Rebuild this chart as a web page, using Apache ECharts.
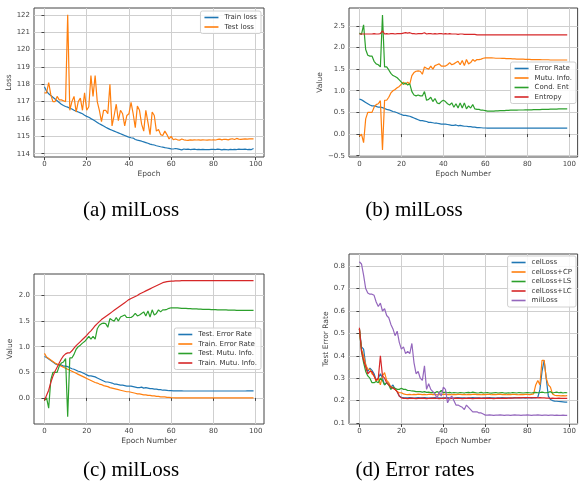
<!DOCTYPE html>
<html><head><meta charset="utf-8">
<script src="https://cdn.jsdelivr.net/npm/echarts@6/dist/echarts.min.js"></script>
<style>html,body{margin:0;padding:0;background:#fff}#c{width:579px;height:489px}</style>
</head><body><div id="c"></div>
<script>
// ---------- Panel (a) ----------
var trainLoss = [117.85,117.6,117.45,117.35,117.25,117.15,117.05,116.95,116.85,116.78,
116.72,116.68,116.62,116.57,116.5,116.45,116.4,116.35,116.3,116.22,
116.15,116.1,116.02,115.95,115.88,115.8,115.72,115.66,115.6,115.52,
115.46,115.4,115.35,115.3,115.25,115.2,115.15,115.1,115.05,115.0,
114.95,114.92,114.9,114.82,114.78,114.75,114.72,114.68,114.64,114.6,
114.55,114.52,114.5,114.46,114.43,114.4,114.38,114.35,114.33,114.31,
114.28,114.27,114.3,114.28,114.25,114.22,114.27,114.25,114.26,114.24,
114.25,114.26,114.24,114.25,114.23,114.25,114.24,114.23,114.24,114.25,
114.25,114.24,114.26,114.25,114.22,114.25,114.24,114.22,114.25,114.24,
114.25,114.24,114.26,114.25,114.25,114.26,114.24,114.25,114.24,114.3];
var testLoss = [117.5,117.5,118.1,117.4,117.0,117.0,117.3,117.1,117.1,117.05,
117.0,122.0,116.5,117.0,117.3,116.4,117.0,117.2,116.5,117.5,
116.5,116.7,118.5,117.3,118.5,117.0,116.5,115.85,116.5,116.5,
116.3,118.0,115.6,116.2,116.85,115.9,116.5,116.3,115.6,116.2,
116.3,116.95,116.3,115.5,116.75,116.5,115.7,115.3,116.5,115.8,
115.1,116.4,116.2,115.3,115.4,115.1,115.05,115.3,115.1,114.85,
115.0,114.8,114.85,114.8,114.78,114.85,114.8,114.78,114.77,114.8,
114.78,114.8,114.79,114.8,114.78,114.8,114.79,114.78,114.8,114.79,
114.8,114.79,114.82,114.84,114.8,114.83,114.82,114.8,114.84,114.86,
114.82,114.88,114.84,114.82,114.84,114.85,114.84,114.85,114.85,114.85];

// ---------- Panel (b) ----------
var errRate = [0.81,0.79,0.76,0.73,0.70,0.67,0.65,0.65,0.64,0.62,
0.62,0.61,0.59,0.57,0.56,0.54,0.52,0.51,0.49,0.47,
0.45,0.43,0.43,0.42,0.41,0.39,0.37,0.35,0.33,0.31,
0.31,0.30,0.29,0.27,0.27,0.26,0.25,0.25,0.24,0.23,
0.23,0.23,0.22,0.21,0.20,0.20,0.21,0.19,0.20,0.19,
0.18,0.18,0.17,0.17,0.16,0.16,0.15,0.15,0.145,0.14,
0.14,0.138,0.137,0.137,0.136,0.136,0.135,0.135,0.135,0.135,
0.135,0.135,0.135,0.135,0.135,0.135,0.135,0.135,0.135,0.135,
0.135,0.135,0.135,0.135,0.135,0.135,0.135,0.135,0.135,0.135,
0.135,0.135,0.135,0.135,0.135,0.135,0.136,0.136,0.137,0.137];
var mutuInfo = [-0.05,0.0,-0.2,0.35,0.5,0.5,0.5,0.62,0.68,0.7,
0.77,-0.37,0.78,0.78,0.85,0.95,1.0,1.03,1.07,1.1,
1.15,1.2,1.15,1.2,1.15,1.35,1.42,1.45,1.46,1.45,
1.38,1.55,1.52,1.5,1.57,1.5,1.58,1.6,1.62,1.57,
1.57,1.57,1.6,1.65,1.6,1.62,1.65,1.68,1.6,1.7,
1.58,1.72,1.62,1.65,1.72,1.68,1.72,1.72,1.73,1.75,
1.76,1.76,1.76,1.76,1.755,1.75,1.75,1.75,1.745,1.745,
1.74,1.74,1.74,1.735,1.735,1.73,1.73,1.73,1.73,1.725,
1.725,1.725,1.72,1.72,1.72,1.72,1.72,1.715,1.715,1.715,
1.715,1.71,1.71,1.71,1.71,1.71,1.71,1.71,1.71,1.71];
var condEnt = [2.33,2.3,2.52,1.95,1.82,1.8,1.8,1.68,1.62,1.6,
1.55,2.75,1.55,1.55,1.48,1.4,1.35,1.33,1.3,1.25,
1.2,1.15,1.18,1.13,1.16,0.98,0.9,0.88,0.9,0.88,
0.88,0.98,0.78,0.8,0.85,0.75,0.82,0.72,0.7,0.75,
0.78,0.75,0.7,0.67,0.72,0.62,0.7,0.6,0.72,0.6,
0.72,0.58,0.65,0.6,0.68,0.58,0.57,0.57,0.55,0.55,
0.54,0.53,0.53,0.53,0.53,0.535,0.535,0.54,0.54,0.54,
0.545,0.545,0.55,0.55,0.55,0.55,0.555,0.555,0.555,0.56,
0.56,0.56,0.56,0.565,0.565,0.565,0.565,0.57,0.57,0.57,
0.57,0.575,0.575,0.575,0.575,0.58,0.58,0.58,0.58,0.58];
var entropy = [2.31,2.31,2.31,2.31,2.31,2.31,2.31,2.32,2.31,2.31,
2.32,2.38,2.31,2.32,2.31,2.32,2.32,2.31,2.32,2.32,
2.32,2.33,2.34,2.33,2.34,2.32,2.32,2.31,2.32,2.32,
2.32,2.34,2.31,2.32,2.32,2.31,2.32,2.31,2.32,2.32,
2.31,2.32,2.31,2.32,2.31,2.31,2.31,2.30,2.31,2.31,
2.30,2.30,2.30,2.30,2.30,2.30,2.29,2.29,2.29,2.29,
2.29,2.29,2.29,2.29,2.29,2.29,2.29,2.29,2.29,2.29,
2.29,2.29,2.29,2.29,2.29,2.29,2.29,2.29,2.29,2.29,
2.29,2.29,2.29,2.29,2.29,2.29,2.29,2.29,2.29,2.29,
2.29,2.29,2.29,2.29,2.29,2.29,2.29,2.29,2.29,2.29];

// ---------- Panel (c) ----------
var testErrC = errRate;
var testMIC = mutuInfo;
var trainErrC = [0.87,0.8,0.77,0.74,0.71,0.68,0.66,0.64,0.62,0.6,
0.58,0.56,0.54,0.52,0.5,0.48,0.46,0.44,0.42,0.4,
0.38,0.36,0.34,0.32,0.3,0.29,0.27,0.26,0.24,0.23,
0.22,0.2,0.19,0.18,0.17,0.16,0.15,0.14,0.13,0.12,
0.12,0.11,0.1,0.09,0.08,0.08,0.07,0.06,0.06,0.05,
0.05,0.04,0.04,0.03,0.03,0.02,0.02,0.02,0.01,0.01,
0.005,0.003,0.002,0.001,0.0,0.0,0.0,0.0,0.0,0.0,
0.0,0.0,0.0,0.0,0.0,0.0,0.0,0.0,0.0,0.0,
0.0,0.0,0.0,0.0,0.0,0.0,0.0,0.0,0.0,0.0,
0.0,0.0,0.0,0.0,0.0,0.0,0.0,0.0,0.0,0.0];
var trainMIC = [-0.05,0.05,0.15,0.3,0.42,0.52,0.6,0.68,0.76,0.82,
0.86,0.88,0.88,0.92,0.97,1.02,1.06,1.1,1.14,1.18,
1.22,1.27,1.31,1.36,1.41,1.45,1.49,1.53,1.56,1.59,
1.62,1.65,1.68,1.71,1.74,1.77,1.8,1.83,1.86,1.89,
1.92,1.94,1.96,1.98,2.0,2.03,2.05,2.07,2.09,2.11,
2.13,2.15,2.17,2.19,2.21,2.23,2.25,2.26,2.27,2.275,
2.28,2.28,2.285,2.285,2.285,2.29,2.29,2.29,2.29,2.29,
2.29,2.29,2.29,2.29,2.29,2.29,2.29,2.29,2.29,2.29,
2.29,2.29,2.29,2.29,2.29,2.29,2.29,2.29,2.29,2.29,
2.29,2.29,2.29,2.29,2.29,2.29,2.29,2.29,2.29,2.29];

// ---------- Panel (d) ----------
var celLoss = [0.52,0.44,0.43,0.36,0.33,0.345,0.335,0.32,0.29,0.30,
0.32,0.30,0.27,0.28,0.27,0.26,0.27,0.25,0.24,0.22,
0.215,0.213,0.212,0.212,0.213,0.212,0.211,0.212,0.213,0.212,
0.212,0.213,0.212,0.211,0.212,0.212,0.213,0.212,0.212,0.211,
0.212,0.212,0.213,0.212,0.212,0.211,0.212,0.213,0.212,0.212,
0.212,0.211,0.212,0.212,0.213,0.212,0.212,0.212,0.211,0.212,
0.212,0.212,0.213,0.212,0.212,0.211,0.212,0.212,0.213,0.212,
0.212,0.212,0.211,0.212,0.213,0.212,0.212,0.212,0.212,0.211,
0.212,0.212,0.213,0.212,0.212,0.215,0.25,0.33,0.38,0.30,
0.22,0.205,0.20,0.198,0.197,0.196,0.195,0.194,0.193,0.193];
var celLossCP = [0.52,0.43,0.40,0.36,0.34,0.34,0.32,0.31,0.285,0.30,
0.27,0.31,0.325,0.29,0.28,0.26,0.26,0.25,0.24,0.235,
0.235,0.23,0.228,0.227,0.228,0.226,0.228,0.227,0.229,0.228,
0.227,0.228,0.226,0.228,0.229,0.227,0.228,0.226,0.228,0.227,
0.228,0.229,0.227,0.228,0.226,0.228,0.227,0.228,0.228,0.227,
0.228,0.226,0.228,0.227,0.228,0.229,0.227,0.228,0.226,0.228,
0.227,0.228,0.228,0.226,0.228,0.227,0.228,0.229,0.227,0.228,
0.226,0.228,0.227,0.228,0.228,0.227,0.226,0.228,0.227,0.228,
0.228,0.227,0.228,0.23,0.27,0.29,0.27,0.38,0.38,0.30,
0.27,0.26,0.23,0.224,0.222,0.222,0.221,0.222,0.221,0.222];
var celLossLS = [0.52,0.42,0.37,0.33,0.31,0.30,0.28,0.28,0.285,0.28,
0.30,0.29,0.27,0.28,0.27,0.25,0.26,0.255,0.25,0.25,
0.255,0.25,0.25,0.245,0.245,0.243,0.242,0.24,0.24,0.24,
0.238,0.24,0.237,0.238,0.236,0.237,0.235,0.24,0.235,0.245,
0.235,0.238,0.235,0.237,0.234,0.236,0.235,0.234,0.236,0.235,
0.234,0.236,0.237,0.235,0.238,0.236,0.234,0.235,0.237,0.234,
0.235,0.236,0.234,0.233,0.235,0.236,0.234,0.235,0.236,0.234,
0.233,0.235,0.234,0.236,0.235,0.234,0.236,0.235,0.234,0.235,
0.236,0.235,0.234,0.236,0.237,0.235,0.236,0.238,0.236,0.235,
0.237,0.24,0.234,0.236,0.238,0.235,0.237,0.234,0.236,0.235];
var celLossLC = [0.525,0.42,0.38,0.35,0.32,0.33,0.33,0.31,0.29,0.30,
0.40,0.31,0.30,0.28,0.27,0.26,0.255,0.25,0.24,0.22,
0.212,0.21,0.21,0.209,0.21,0.211,0.21,0.209,0.21,0.21,
0.211,0.21,0.209,0.21,0.21,0.211,0.21,0.21,0.209,0.21,
0.21,0.211,0.21,0.209,0.21,0.21,0.211,0.21,0.21,0.209,
0.21,0.21,0.211,0.21,0.209,0.21,0.21,0.211,0.21,0.21,
0.21,0.211,0.21,0.21,0.209,0.21,0.211,0.21,0.21,0.211,
0.21,0.211,0.212,0.211,0.212,0.212,0.213,0.212,0.213,0.213,
0.213,0.213,0.212,0.213,0.213,0.212,0.213,0.212,0.212,0.211,
0.211,0.21,0.211,0.21,0.21,0.211,0.21,0.21,0.21,0.21];
var milLoss = [0.82,0.81,0.76,0.70,0.68,0.675,0.675,0.67,0.64,0.62,
0.635,0.60,0.61,0.58,0.57,0.54,0.52,0.49,0.51,0.46,
0.43,0.44,0.41,0.42,0.41,0.455,0.37,0.32,0.33,0.30,
0.29,0.355,0.25,0.275,0.25,0.24,0.23,0.21,0.24,0.22,
0.26,0.25,0.19,0.21,0.22,0.20,0.18,0.18,0.175,0.17,
0.16,0.18,0.17,0.16,0.15,0.15,0.15,0.145,0.145,0.14,
0.135,0.135,0.136,0.135,0.134,0.135,0.135,0.136,0.135,0.134,
0.135,0.135,0.134,0.135,0.136,0.135,0.135,0.134,0.135,0.135,
0.136,0.135,0.134,0.135,0.135,0.136,0.135,0.134,0.135,0.135,
0.134,0.135,0.135,0.134,0.135,0.134,0.134,0.135,0.134,0.134];

// ---------- tick labels ----------
var xTicks = [0,20,40,60,80,100];
var yTicksA = [114,115,116,117,118,119,120,121,122];
var yTicksB = [-0.5,0,0.5,1.0,1.5,2.0,2.5];
var yTicksC = [0,0.5,1.0,1.5,2.0];
var yTicksD = [0.1,0.2,0.3,0.4,0.5,0.6,0.7,0.8];

var C = ['#1f77b4','#ff7f0e','#2ca02c','#d62728','#9467bd'];
var FONT = 'DejaVu Sans';

function xy(arr){ return arr.map(function(v,i){ return [i,v]; }); }
function fmt1(v){ return (Math.round(v*10)/10).toFixed(1).replace('-','\u2212'); }

var grids = [
  {left:34, top:8, width:230, height:149},
  {left:349, top:8, width:231, height:149},
  {left:34, top:274, width:230, height:150},
  {left:349, top:254, width:231, height:170}
].map(function(g){ return Object.assign({show:true, borderColor:'#444', borderWidth:1, backgroundColor:'#fff', containLabel:false}, g); });

function xAxis(i, name){
  return {type:'value', gridIndex:i, min:-4.95, max:103.95,
    name:name, nameLocation:'middle', nameGap:13,
    nameTextStyle:{fontSize:7.5, color:'#444', fontFamily:FONT},
    axisLine:{show:false},
    axisTick:{show:true, customValues:xTicks, length:3, lineStyle:{color:'#444'}},
    axisLabel:{customValues:xTicks, fontSize:7, color:'#444', fontFamily:FONT, margin:4},
    splitLine:{show:true, lineStyle:{color:'#cfcfcf', width:1}}};
}
function yAxis(i, name, min, max, ticks, gap, f){
  return {type:'value', gridIndex:i, min:min, max:max,
    name:name, nameLocation:'middle', nameGap:gap,
    nameTextStyle:{fontSize:7.5, color:'#444', fontFamily:FONT},
    axisLine:{show:false},
    axisTick:{show:true, customValues:ticks, length:3, lineStyle:{color:'#444'}},
    axisLabel:{customValues:ticks, fontSize:7, color:'#444', fontFamily:FONT, margin:4, formatter:f},
    splitLine:{show:true, lineStyle:{color:'#cfcfcf', width:1}}};
}
function line(name, data, ci, gi){
  return {type:'line', name:name, data:xy(data), xAxisIndex:gi, yAxisIndex:gi,
    showSymbol:false, symbol:'none', lineStyle:{width:1.2, color:C[ci]}, itemStyle:{color:C[ci]},
    emphasis:{disabled:true}, animation:false};
}
function legend(names, pos){
  return Object.assign({data:names, orient:'vertical', icon:'rect',
    itemWidth:14, itemHeight:1.6, itemGap:2.5, padding:[3,4,3,4],
    backgroundColor:'rgba(255,255,255,0.85)', borderColor:'#d0d0d0', borderWidth:1, borderRadius:2,
    textStyle:{fontSize:7, color:'#333', fontFamily:FONT, padding:[0,0,0,1]}, selectedMode:false}, pos);
}

var option = {
  animation:false,
  backgroundColor:'#fff',
  grid: grids,
  xAxis: [xAxis(0,'Epoch'), xAxis(1,'Epoch Number'), xAxis(2,'Epoch Number'), xAxis(3,'Epoch Number')],
  yAxis: [
    yAxis(0,'Loss',113.81,122.39,yTicksA,20,function(v){return String(Math.round(v));}),
    yAxis(1,'Value',-0.53,2.91,yTicksB,24,fmt1),
    yAxis(2,'Value',-0.51,2.42,yTicksC,20,fmt1),
    yAxis(3,'Test Error Rate',0.0955,0.8545,yTicksD,18,fmt1)
  ],
  legend: [
    legend(['Train loss','Test loss'], {right:318, top:11}),
    legend(['Error Rate','Mutu. Info.','Cond. Ent','Entropy'], {right:3, top:62}),
    legend(['Test. Error Rate','Train. Error Rate','Test. Mutu. Info.','Train. Mutu. Info.'], {right:318, top:328}),
    legend(['celLoss','celLoss+CP','celLoss+LS','celLoss+LC','milLoss'], {right:3, top:256})
  ],
  series: [
    line('Train loss', trainLoss, 0, 0),
    line('Test loss', testLoss, 1, 0),
    line('Error Rate', errRate, 0, 1),
    line('Mutu. Info.', mutuInfo, 1, 1),
    line('Cond. Ent', condEnt, 2, 1),
    line('Entropy', entropy, 3, 1),
    line('Test. Error Rate', testErrC, 0, 2),
    line('Train. Error Rate', trainErrC, 1, 2),
    line('Test. Mutu. Info.', testMIC, 2, 2),
    line('Train. Mutu. Info.', trainMIC, 3, 2),
    line('celLoss', celLoss, 0, 3),
    line('celLoss+CP', celLossCP, 1, 3),
    line('celLoss+LS', celLossLS, 2, 3),
    line('celLoss+LC', celLossLC, 3, 3),
    line('milLoss', milLoss, 4, 3)
  ],
  graphic: [
    ['(a) milLoss',131,210],['(b) milLoss',414,210],['(c) milLoss',131,470],['(d) Error rates',415,470]
  ].map(function(t){
    return {type:'text', x:t[1], y:t[2], silent:true,
      style:{text:t[0], font:'21px "Liberation Serif", "Times New Roman", serif', fill:'#000',
        textAlign:'center', textVerticalAlign:'middle', align:'center', verticalAlign:'middle'}};
  })
};
var chart = echarts.init(document.getElementById('c'), null, {renderer:'canvas'});
chart.setOption(option);
</script>
</body></html>
